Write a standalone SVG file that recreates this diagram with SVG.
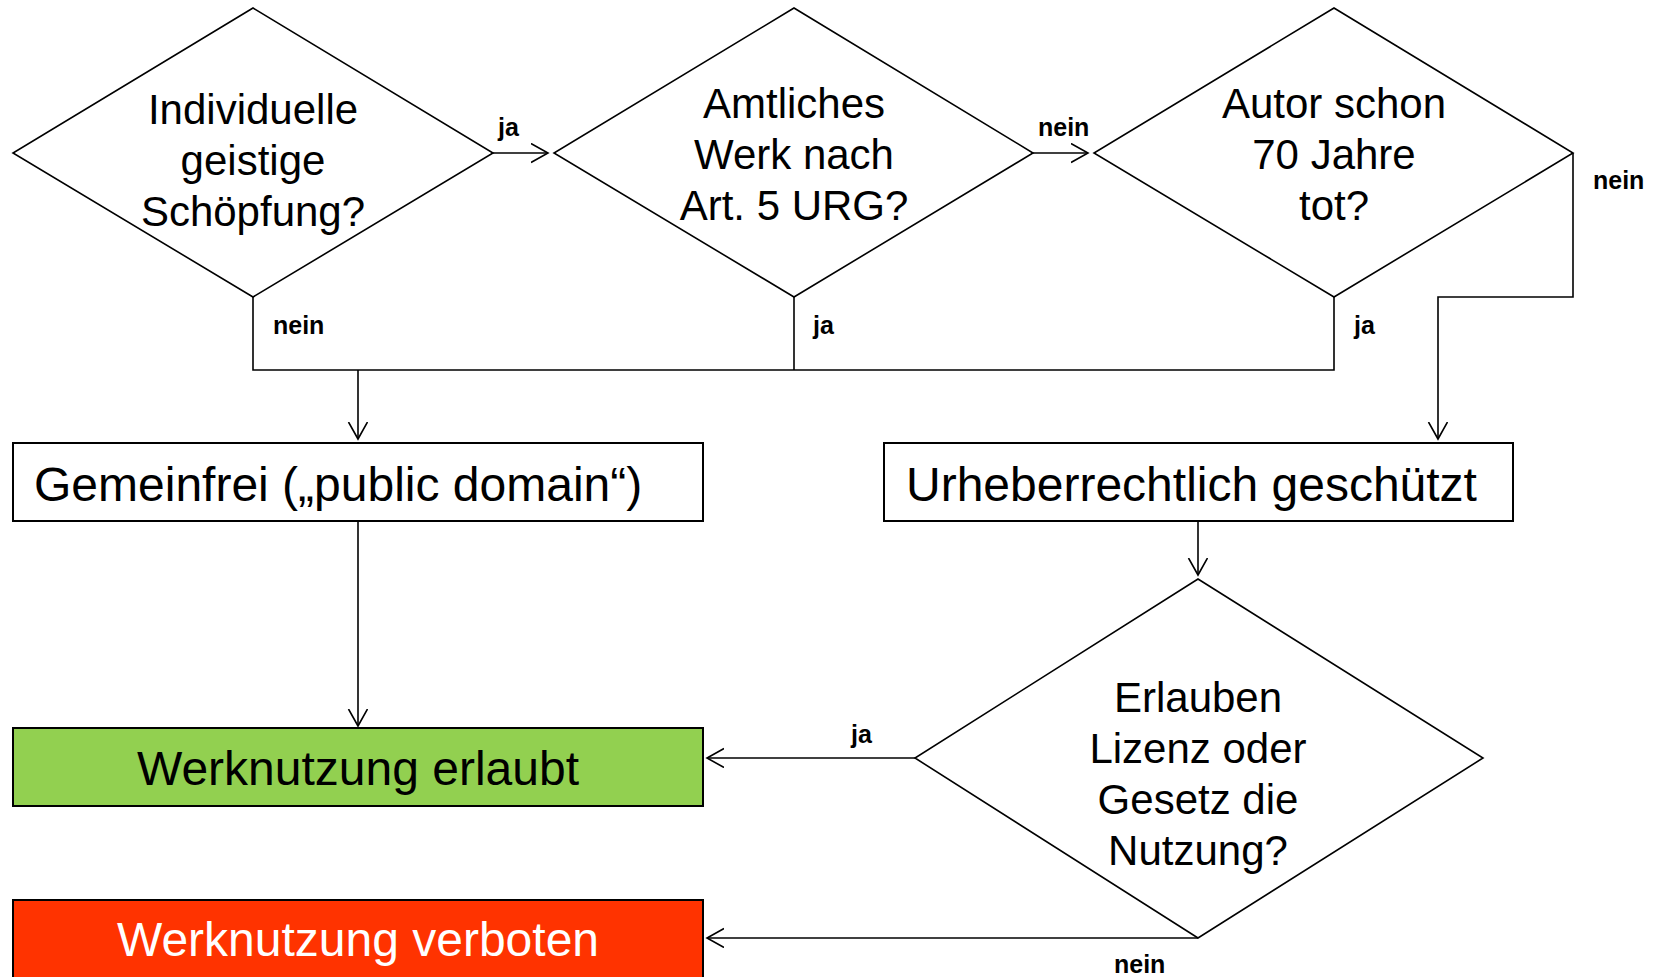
<svg xmlns="http://www.w3.org/2000/svg" width="1661" height="977" viewBox="0 0 1661 977">
<style>
.bg{fill:#ffffff}
.dia{fill:#ffffff;stroke:#000;stroke-width:1.6}
.box{stroke:#000;stroke-width:2}
.ln{fill:none;stroke:#000;stroke-width:1.6}
.arr{fill:none;stroke:#000;stroke-width:1.6;marker-end:url(#ah)}
.dt{font-family:"Liberation Sans",Arial,sans-serif;font-size:42px;fill:#000;text-anchor:middle}
.bt{font-family:"Liberation Sans",Arial,sans-serif;font-size:48px;fill:#000}
.lb{font-family:"Liberation Sans",Arial,sans-serif;font-size:25px;font-weight:bold;fill:#000}
</style>
<defs>
<marker id="ah" markerUnits="userSpaceOnUse" markerWidth="22" markerHeight="22" refX="17" refY="10" orient="auto" viewBox="0 0 22 22">
<polyline points="0,0.5 17,10 0,19.5" fill="none" stroke="#000" stroke-width="1.6"/>
</marker>
</defs>
<rect class="bg" x="0" y="0" width="1661" height="977"/>

<g id="connectors">
<line class="arr" x1="493" y1="153" x2="548" y2="153"/>
<line class="arr" x1="1033" y1="153" x2="1088" y2="153"/>
<polyline class="arr" points="1573,153 1573,297 1438,297 1438,439"/>
<polyline class="ln" points="253,297 253,370 1334,370 1334,297"/>
<line class="ln" x1="794" y1="297" x2="794" y2="370"/>
<line class="arr" x1="358" y1="370" x2="358" y2="439"/>
<line class="arr" x1="358" y1="521" x2="358" y2="726"/>
<line class="arr" x1="1198" y1="521" x2="1198" y2="575"/>
<line class="arr" x1="915" y1="758" x2="707" y2="758"/>
<line class="arr" x1="1198" y1="938" x2="707" y2="938"/>
<text class="lb" x="498" y="136">ja</text>
<text class="lb" x="1038" y="136">nein</text>
<text class="lb" x="1593" y="189">nein</text>
<text class="lb" x="273" y="334">nein</text>
<text class="lb" x="813" y="334">ja</text>
<text class="lb" x="1354" y="334">ja</text>
<text class="lb" x="851" y="743">ja</text>
<text class="lb" x="1114" y="973">nein</text>
</g>

<g id="d1">
<polygon class="dia" points="253,8 493,153 253,297 13,153"/>
<text class="dt" x="253" y="124">Individuelle</text>
<text class="dt" x="253" y="175">geistige</text>
<text class="dt" x="253" y="226">Schöpfung?</text>
</g>
<g id="d2">
<polygon class="dia" points="794,8 1033,153 794,297 554,153"/>
<text class="dt" x="794" y="118">Amtliches</text>
<text class="dt" x="794" y="169">Werk nach</text>
<text class="dt" x="794" y="220">Art. 5 URG?</text>
</g>
<g id="d3">
<polygon class="dia" points="1334,8 1573,153 1334,297 1094,153"/>
<text class="dt" x="1334" y="118">Autor schon</text>
<text class="dt" x="1334" y="169">70 Jahre</text>
<text class="dt" x="1334" y="220">tot?</text>
</g>
<g id="gemeinfrei">
<rect class="box" x="13" y="443" width="690" height="78" fill="#ffffff"/>
<text class="bt" x="34" y="501">Gemeinfrei („public domain“)</text>
</g>
<g id="urheber">
<rect class="box" x="884" y="443" width="629" height="78" fill="#ffffff"/>
<text class="bt" x="906" y="501">Urheberrechtlich geschützt</text>
</g>
<g id="d4">
<polygon class="dia" points="1198,579 1483,758 1198,938 915,758"/>
<text class="dt" x="1198" y="712">Erlauben</text>
<text class="dt" x="1198" y="763">Lizenz oder</text>
<text class="dt" x="1198" y="814">Gesetz die</text>
<text class="dt" x="1198" y="865">Nutzung?</text>
</g>
<g id="erlaubt">
<rect class="box" x="13" y="728" width="690" height="78" fill="#92D050"/>
<text class="bt" x="358" y="785" text-anchor="middle">Werknutzung erlaubt</text>
</g>
<g id="verboten">
<rect class="box" x="13" y="900" width="690" height="78" fill="#FF3300"/>
<text class="bt" x="358" y="956" text-anchor="middle" style="fill:#ffffff">Werknutzung verboten</text>
</g>
</svg>
